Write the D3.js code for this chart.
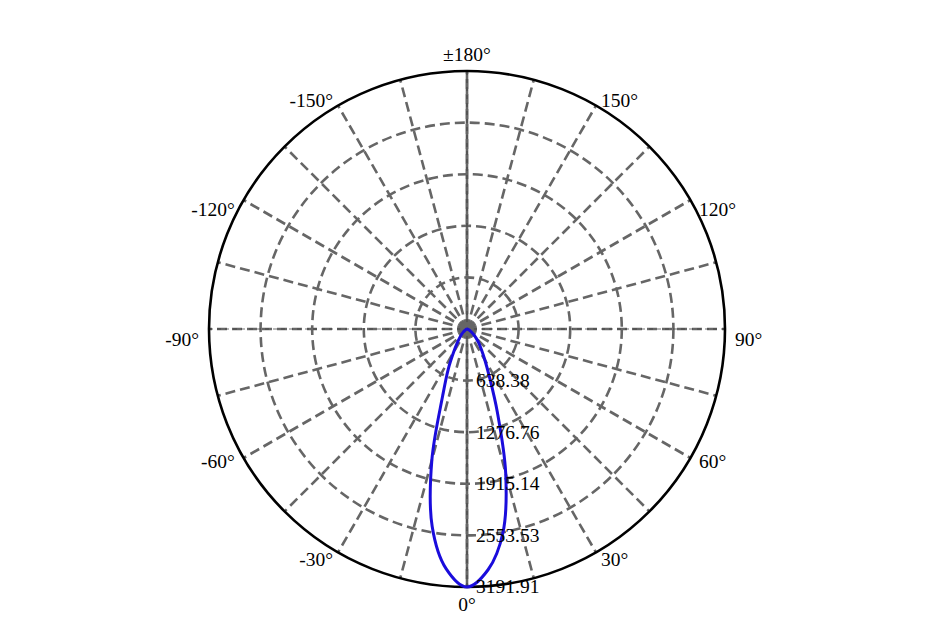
<!DOCTYPE html>
<html>
<head>
<meta charset="utf-8">
<script src="https://cdn.jsdelivr.net/npm/d3@7"></script>
<style>
  body { margin: 0; background: #fff; }
  svg text { font-family: "Liberation Serif", "Times New Roman", serif; font-size: 19.5px; fill: #000; }
</style>
</head>
<body>
<svg id="viz" width="952" height="637"></svg>
<script>
// angles in degrees, 0 = straight down, positive to the right
var angles = [0, 5, 10, 15, 20, 25, 30, 35, 40, 45, 50, 55, 60, 65, 70, 75, 80, 85, 90];
// C0 plane (right half) and C180 plane (left half), cd
var rightValues = [3191.91, 2990, 2560, 1850, 1100, 660, 440, 310, 225, 160, 110, 70, 45, 25, 12, 6, 3, 1, 0];
var leftValues  = [3191.91, 2975, 2480, 1680, 880, 550, 330, 210, 140, 95, 60, 35, 20, 10, 5, 2, 1, 0, 0];
var ringValues = [638.38, 1276.76, 1915.14, 2553.53, 3191.91];
var angleTicks = [0, 30, 60, 90, 120, 150, 180, -150, -120, -90, -60, -30];

var svg = d3.select("#viz");
var cx = 467, cy = 329, R = 258;
var gridColor = "#666";

var rScale = d3.scaleLinear().domain([0, 3191.91]).range([0, R]);

function pt(deg, r) {
    var a = deg * Math.PI / 180;
    return [cx + r * Math.sin(a), cy + r * Math.cos(a)];
}

var g = svg.append("g");

// rings
g.selectAll(".ring")
    .data(ringValues.slice(0, 4))
    .enter().append("circle")
    .attr("class", "ring")
    .attr("cx", cx).attr("cy", cy)
    .attr("r", function (d) { return rScale(d); })
    .attr("fill", "none")
    .attr("stroke", gridColor)
    .attr("stroke-width", 2.6)
    .attr("stroke-dasharray", "10,5");

// spokes every 15 deg
var spokes = d3.range(0, 360, 15);
g.selectAll(".spoke")
    .data(spokes)
    .enter().append("line")
    .attr("class", "spoke")
    .attr("x1", cx).attr("y1", cy)
    .attr("x2", function (d) { return pt(d, R)[0]; })
    .attr("y2", function (d) { return pt(d, R)[1]; })
    .attr("stroke", gridColor)
    .attr("stroke-width", 2.6)
    .attr("stroke-dasharray", "10,5");

// vertical axis drawn solid
g.append("line")
    .attr("x1", cx).attr("y1", cy - R)
    .attr("x2", cx).attr("y2", cy + R)
    .attr("stroke", gridColor).attr("stroke-width", 2.6);

// thin dark axis lines
[[cx - R, cy, cx + R, cy], [cx, cy - R, cx, cy + R]].forEach(function (l) {
    g.append("line")
        .attr("x1", l[0]).attr("y1", l[1]).attr("x2", l[2]).attr("y2", l[3])
        .attr("stroke", "#333").attr("stroke-width", 0.7)
        .attr("stroke-dasharray", "4,4");
});

// centre blob
g.append("circle")
    .attr("cx", cx).attr("cy", cy).attr("r", 7)
    .attr("fill", gridColor);

// outer circle
g.append("circle")
    .attr("cx", cx).attr("cy", cy).attr("r", R)
    .attr("fill", "none")
    .attr("stroke", "#000")
    .attr("stroke-width", 2.6);

// curve: left half from -90 up to 0, then right half 0..90
var curve = [];
for (var i = angles.length - 1; i > 0; i--) curve.push([-angles[i], leftValues[i]]);
for (var j = 0; j < angles.length; j++) curve.push([angles[j], rightValues[j]]);

var line = d3.line()
    .x(function (d) { return pt(d[0], rScale(d[1]))[0]; })
    .y(function (d) { return pt(d[0], rScale(d[1]))[1]; })
    .curve(d3.curveCatmullRom.alpha(0.5));

svg.append("path")
    .datum(curve)
    .attr("d", line)
    .attr("fill", "none")
    .attr("stroke", "#1a0cdc")
    .attr("stroke-width", 3)
    .attr("stroke-linejoin", "round");

// ring labels
svg.selectAll(".rlabel")
    .data(ringValues)
    .enter().append("text")
    .attr("class", "rlabel")
    .attr("x", cx + 9)
    .attr("y", function (d) { return cy + rScale(d); })
    .attr("dy", "0.33em")
    .text(function (d) { return d.toFixed(2); });

// angle labels, small vertical nudges
var nudge = { 0: 8, 30: -2, 60: -1, 90: 11, 120: 15, 150: 4, 180: -6 };
svg.selectAll(".alabel")
    .data(angleTicks)
    .enter().append("text")
    .attr("class", "alabel")
    .attr("x", function (d) { return pt(d, R + 10)[0]; })
    .attr("y", function (d) { return pt(d, R + 10)[1] + nudge[Math.abs(d)]; })
    .attr("dy", "0.33em")
    .attr("text-anchor", function (d) {
        var s = Math.sin(d * Math.PI / 180);
        return Math.abs(s) < 0.01 ? "middle" : (s > 0 ? "start" : "end");
    })
    .text(function (d) { return (d === 180 ? "\u00b1" : "") + d + "\u00b0"; });
</script>
</body>
</html>
